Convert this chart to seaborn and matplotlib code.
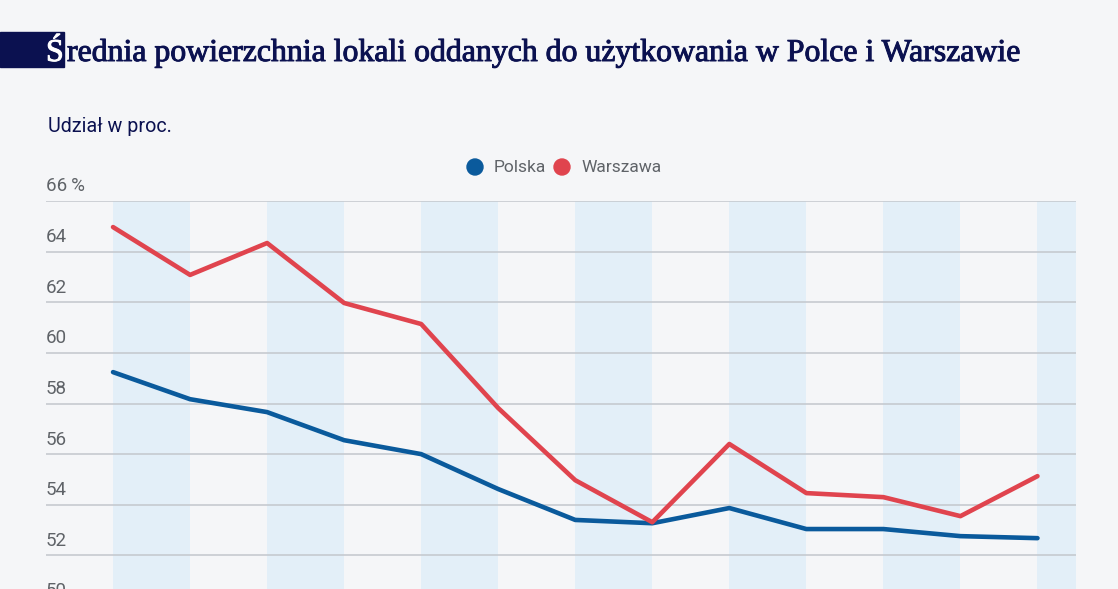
import matplotlib
matplotlib.use("Agg")
import matplotlib.pyplot as plt
import matplotlib.patches as mpatches
import matplotlib.patheffects as pe
import seaborn as sns
import pandas as pd

# dane
okresy = ["2010", "2011", "2012", "2013", "2014", "2015", "2016",
          "2017", "2018", "2019", "2020", "2021", "2022"]
polska = [59.24, 58.17, 57.66, 56.55, 56.0, 54.62, 53.4,
          53.27, 53.87, 53.04, 53.04, 52.76, 52.68]
warszawa = [64.97, 63.08, 64.34, 61.97, 61.14, 57.82, 54.97,
            53.31, 56.4, 54.46, 54.3, 53.55, 55.13]
y_ticks = [50, 52, 54, 56, 58, 60, 62, 64, 66]

tlo = "#f5f6f8"
granat = "#0b1150"
kolory = {"Polska": "#0a5a9c", "Warszawa": "#e0444e"}

df = pd.DataFrame({"okres": okresy, "Polska": polska, "Warszawa": warszawa})
df["x"] = range(len(df))
df_long = df.melt(id_vars=["okres", "x"], var_name="seria", value_name="wartosc")

sns.set_theme(style="white")
plt.rcParams["font.family"] = ["Roboto", "DejaVu Sans"]

fig = plt.figure(figsize=(11.18, 5.89), dpi=100, facecolor=tlo)
ax = fig.add_axes([46 / 1118, -17 / 589, 1030 / 1118, 405 / 589])
ax.set_facecolor(tlo)

# pasy tła
for i in range(0, len(okresy), 2):
    ax.axvspan(i, i + 1, color="#e3eff8", lw=0, zorder=0)

# linie siatki
for v in y_ticks:
    ax.axhline(v, color="#c3c7cc", lw=1.1, zorder=1)
    lab = f"{v}\u2009%" if v == 66 else f"{v}"
    ax.text(0, v + 0.22, lab, transform=ax.get_yaxis_transform(),
            ha="left", va="bottom", fontsize=13.5, color="#5f6368")

sns.lineplot(data=df_long, x="x", y="wartosc", hue="seria", palette=kolory,
             linewidth=3.3, ax=ax, legend=False, zorder=3)

ax.set_xlim(-0.87, 12.5)
ax.set_ylim(50, 66)
ax.set_xticks([])
ax.set_yticks([])
ax.set_xlabel("")
ax.set_ylabel("")
for s in ax.spines.values():
    s.set_visible(False)

# tytuł
serif = ["Liberation Serif", "DejaVu Serif"]
fig.patches.append(mpatches.Rectangle((0, 1 - 67 / 589), 64 / 1118, 35 / 589,
                                      transform=fig.transFigure, color=granat, zorder=0))
fig.text(46 / 1118, 1 - 61 / 589, "Ś", color="white", fontsize=22.9,
         family=serif, ha="left", va="baseline",
         path_effects=[pe.withStroke(linewidth=0.7, foreground="white")])
fig.text(67 / 1118, 1 - 61 / 589, "rednia powierzchnia lokali oddanych do użytkowania w Polce i Warszawie",
         color=granat, fontsize=22.9, family=serif, ha="left", va="baseline",
         path_effects=[pe.withStroke(linewidth=0.7, foreground=granat)])

fig.text(48 / 1118, 1 - 132 / 589, "Udział w proc.", color=granat, fontsize=14.2,
         ha="left", va="baseline")

# legenda
leg_y = 1 - 167 / 589
for x0, nazwa in [(475, "Polska"), (562, "Warszawa")]:
    fig.patches.append(mpatches.Ellipse((x0 / 1118, leg_y), 16 / 1118, 16 / 589,
                                        transform=fig.transFigure, color=kolory[nazwa]))
    fig.text((x0 + 19) / 1118, leg_y, nazwa, color="#5f6368", fontsize=12.5,
             ha="left", va="center")

fig.savefig("out.png", dpi=100, facecolor=tlo)
